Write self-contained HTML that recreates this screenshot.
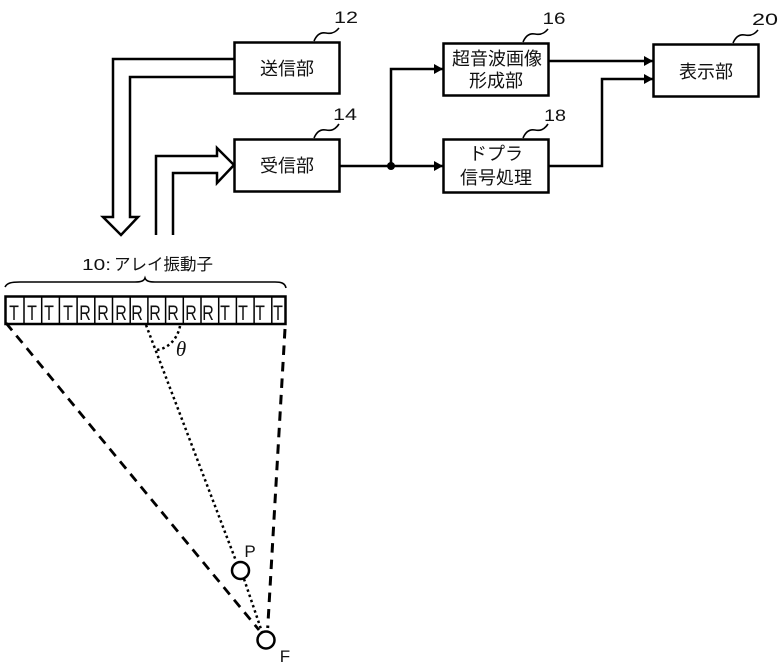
<!DOCTYPE html>
<html><head><meta charset="utf-8">
<style>
html,body{margin:0;padding:0;background:#fff;width:781px;height:672px;overflow:hidden}
svg{display:block}
text{font-family:"Liberation Sans","Noto Sans CJK JP",sans-serif;fill:#111;text-anchor:middle}
.j{font-size:18px}
.n{font-size:17px}
.c{font-size:16px}
</style></head><body>
<svg width="781" height="672" viewBox="0 0 781 672" xmlns="http://www.w3.org/2000/svg">
<g fill="none" stroke="#000" stroke-width="2.5">
<rect x="234.500" y="42.500" width="105" height="51"/>
<rect x="234.500" y="139.500" width="105" height="52"/>
<rect x="443.500" y="43.500" width="105" height="52"/>
<rect x="443.500" y="139.500" width="105" height="53"/>
<rect x="653.500" y="44.500" width="105" height="52"/>
<path d="M234 59H113V217H103L121 235L138 217H130V77H234"/>
<path d="M156 235V156H217V148L234 165L217 183V173H173V235"/>
<path d="M340 166H443M391 166V69H443M549 61H653M549 166H602V79H653"/>
</g>
<circle cx="391" cy="166" r="4" fill="#000"/>
<g fill="#000">
<path d="M443 69L434 64V74Z"/><path d="M443 166L434 161V171Z"/>
<path d="M653 61L644 56V66Z"/><path d="M653 79L644 74V84Z"/>
</g>
<g fill="none" stroke="#000" stroke-width="1.600">
<path d="M314 41C317 34 321 32 326 33C331 34 335 33 339 28"/>
<path d="M314 138C317 131 321 129 326 130C331 131 335 130 339 124"/>
<path d="M523 42C526 35 530 33 535 34C540 35 544 34 548 29"/>
<path d="M523 138C526 131 530 129 535 130C540 131 544 130 548 124"/>
<path d="M733 43C736 36 740 34 745 35C750 36 754 35 758 30"/>
<path d="M5 287C7 283 11 282 20 282H135C141 282 144 281 145 278C146 281 149 282 155 282H275C281 282 285 283 286 288"/>
</g>
<text class="n" x="346" y="23" textLength="24" lengthAdjust="spacingAndGlyphs">12</text>
<text class="n" x="345" y="120" textLength="24" lengthAdjust="spacingAndGlyphs">14</text>
<text class="n" x="554" y="24" textLength="23" lengthAdjust="spacingAndGlyphs">16</text>
<text class="n" x="555" y="121" textLength="22" lengthAdjust="spacingAndGlyphs">18</text>
<text class="n" x="765" y="25" textLength="26" lengthAdjust="spacingAndGlyphs">20</text>
<text class="j" x="287" y="75">送信部</text>
<text class="j" x="287" y="172">受信部</text>
<text class="j" x="497" y="65">超音波画像</text>
<text class="j" x="496" y="87">形成部</text>
<text class="j" x="496" y="160">ドプラ</text>
<text class="j" x="496" y="184">信号処理</text>
<text class="j" x="706" y="78">表示部</text>
<text x="82" y="270" textLength="29" lengthAdjust="spacingAndGlyphs" style="font-size:16px;text-anchor:start">10:</text>
<text x="114" y="270" style="font-size:16.500px;text-anchor:start">アレイ振動子</text>
<g fill="none" stroke="#000">
<rect x="5.500" y="296.500" width="280" height="27.500" stroke-width="2.500"/>
<path stroke-width="1.500" d="M24 297V324M41.700 297V324M59.400 297V324M77.100 297V324M94.800 297V324M112.500 297V324M130.200 297V324M147.900 297V324M165.600 297V324M183.300 297V324M201 297V324M218.700 297V324M236.400 297V324M254.100 297V324M271.800 297V324"/>
<path stroke-width="2.800" stroke-dasharray="9.500 6.800" d="M6 323L259 630"/>
<path stroke-width="3" stroke-dasharray="9.500 7" d="M285 329L267.700 628"/>
<path stroke-width="2.500" stroke-dasharray="2.500 3" d="M146 325L236 561M244 579L262 632"/>
<path stroke-width="2.500" stroke-dasharray="2.500 3" d="M180 326C178 337 170 348 157 350"/>
<circle cx="240.500" cy="570.500" r="8.500" stroke-width="2.500" fill="#fff"/>
<circle cx="266" cy="640" r="8.500" stroke-width="2.500" fill="#fff"/>
</g>
<g transform="scale(1,1.300)">
<text class="c" x="14" y="246">T</text><text class="c" x="32" y="246">T</text><text class="c" x="49" y="246">T</text><text class="c" x="68" y="246">T</text>
<text class="c" x="85" y="246">R</text><text class="c" x="103" y="246">R</text><text class="c" x="121" y="246">R</text><text class="c" x="137" y="246">R</text>
<text class="c" x="155" y="246">R</text><text class="c" x="173" y="246">R</text><text class="c" x="191" y="246">R</text><text class="c" x="208" y="246">R</text>
<text class="c" x="225" y="246">T</text><text class="c" x="243" y="246">T</text><text class="c" x="260" y="246">T</text><text class="c" x="278" y="246">T</text>
</g>
<text x="181" y="356" style="font-size:21px;font-style:italic;font-family:'Liberation Serif',serif">θ</text>
<text x="250" y="557" style="font-size:17px">P</text>
<text x="285" y="662" style="font-size:17px">F</text>
</svg>
</body></html>
